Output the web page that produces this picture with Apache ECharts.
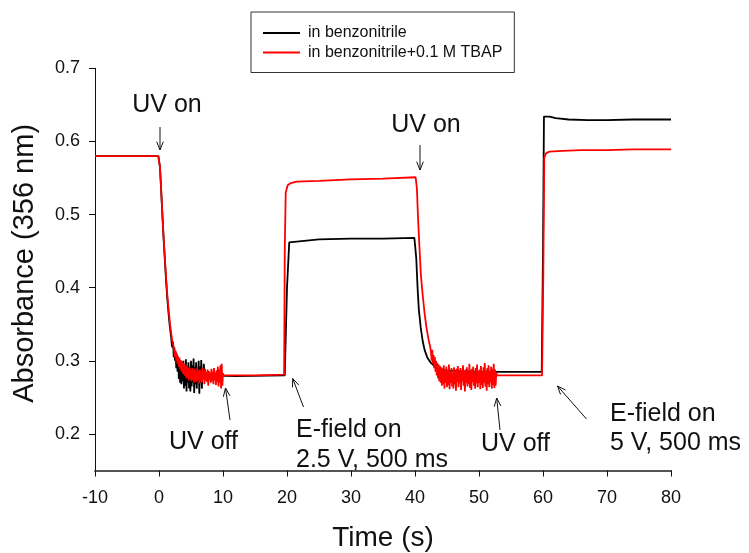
<!DOCTYPE html>
<html>
<head>
<meta charset="utf-8">
<script src="https://cdn.jsdelivr.net/npm/echarts@6/dist/echarts.min.js"></script>
<style>
html,body{margin:0;padding:0;background:#fff;}
#c{width:749px;height:553px;}
</style>
</head>
<body>
<div id="c"></div>
<script>
// ---------- DATA ----------
const seriesNames = ['in benzonitrile', 'in benzonitrile+0.1 M TBAP'];
const xTicks = [-10, 0, 10, 20, 30, 40, 50, 60, 70, 80];
const yTicks = [0.2, 0.3, 0.4, 0.5, 0.6, 0.7];

// black: before UV, first decay
const blackDecay1 = [[-10,0.580],[-5,0.580],[-0.1,0.580],[0,0.581],[0.15,0.565],[0.3,0.540],[0.5,0.505],[0.7,0.470],[0.9,0.440],[1.1,0.410],[1.3,0.385],[1.5,0.364],[1.7,0.346],[1.9,0.332]];
// black: noisy tail of first decay
const blackNoise1 = [[2.0,0.322],[2.1,0.318],[2.2,0.326],[2.3,0.305],[2.4,0.318],[2.5,0.300],[2.6,0.312],[2.7,0.290],[2.8,0.308],[2.9,0.285],[3.0,0.303],[3.1,0.275],[3.2,0.300],[3.3,0.270],[3.4,0.298],[3.5,0.268],[3.6,0.296],[3.7,0.272],[3.8,0.300],[3.9,0.262],[4.0,0.294],[4.1,0.266],[4.2,0.302],[4.3,0.258],[4.4,0.293],[4.5,0.270],[4.6,0.298],[4.7,0.262],[4.8,0.291],[4.9,0.258],[5.0,0.300],[5.1,0.265],[5.2,0.294],[5.3,0.270],[5.4,0.303],[5.5,0.256],[5.6,0.292],[5.7,0.268],[5.8,0.298],[5.9,0.262],[6.0,0.289],[6.1,0.272],[6.2,0.300],[6.3,0.255],[6.4,0.292],[6.5,0.270],[6.6,0.301],[6.7,0.262],[6.8,0.290],[6.9,0.275],[7.0,0.296],[7.1,0.280]];
// black: rest of the trace
const blackRest = [[7.2,0.280],[12,0.279],[19.65,0.280],[20.0,0.400],[20.35,0.462],[20.6,0.464],[25,0.466],[30,0.467],[35,0.467],[39.9,0.468],[40.0,0.466],[40.2,0.440],[40.4,0.400],[40.6,0.370],[40.9,0.345],[41.2,0.327],[41.5,0.315],[41.9,0.305],[42.4,0.298],[43,0.293],[44,0.289],[45,0.287],[47,0.286],[50,0.285],[55,0.285],[59.8,0.285],[60.0,0.450],[60.15,0.634],[61,0.634],[62,0.632],[64,0.630],[67,0.629],[70,0.629],[74,0.630],[77,0.630],[80,0.630]];

// red: before UV, first decay
const redDecay1 = [[-10,0.580],[-5,0.580],[-0.1,0.580],[0,0.581],[0.15,0.565],[0.3,0.540],[0.5,0.505],[0.7,0.472],[0.9,0.443],[1.1,0.415],[1.3,0.390],[1.5,0.370],[1.7,0.352],[1.9,0.338],[2.1,0.326],[2.3,0.318]];
// red: noisy tail of first decay
const redNoise1 = [[2.4,0.316],[2.5,0.305],[2.6,0.314],[2.7,0.300],[2.8,0.310],[2.9,0.296],[3.0,0.306],[3.1,0.292],[3.2,0.304],[3.3,0.289],[3.4,0.301],[3.5,0.286],[3.6,0.299],[3.7,0.283],[3.8,0.297],[3.9,0.281],[4.0,0.295],[4.1,0.279],[4.2,0.294],[4.3,0.276],[4.4,0.292],[4.5,0.277],[4.6,0.290],[4.7,0.273],[4.8,0.291],[4.9,0.275],[5.0,0.288],[5.1,0.272],[5.2,0.290],[5.3,0.274],[5.4,0.287],[5.5,0.270],[5.6,0.289],[5.7,0.273],[5.8,0.286],[5.9,0.271],[6.0,0.291],[6.1,0.274],[6.2,0.287],[6.3,0.269],[6.4,0.288],[6.5,0.272],[6.6,0.285],[6.7,0.270],[6.8,0.290],[6.9,0.275],[7.0,0.286],[7.1,0.268],[7.2,0.289],[7.3,0.273],[7.4,0.285],[7.5,0.271],[7.6,0.288],[7.7,0.266],[7.8,0.286],[7.9,0.274],[8.0,0.284],[8.1,0.270],[8.2,0.289],[8.3,0.272],[8.4,0.285],[8.5,0.268],[8.6,0.290],[8.7,0.274],[8.8,0.284],[8.9,0.267],[9.0,0.287],[9.1,0.271],[9.2,0.292],[9.3,0.265],[9.4,0.288],[9.5,0.270],[9.6,0.294],[9.7,0.262],[9.8,0.296],[9.9,0.266],[10.0,0.283]];
// red: flat, E-field step, second decay start
const redMid = [[10.1,0.280],[15,0.280],[19.55,0.281],[19.65,0.450],[19.8,0.530],[20.1,0.540],[20.6,0.543],[21.5,0.545],[25,0.546],[30,0.548],[35,0.549],[40.1,0.551],[40.3,0.535],[40.5,0.490],[40.7,0.455],[40.9,0.420],[41.2,0.390],[41.5,0.365],[41.8,0.345],[42.1,0.330],[42.4,0.318]];
// red: noisy tail of second decay
const redNoise2 = [[42.5,0.312],[42.6,0.300],[42.7,0.315],[42.8,0.296],[42.9,0.308],[43.0,0.290],[43.1,0.305],[43.2,0.285],[43.3,0.300],[43.4,0.280],[43.5,0.297],[43.6,0.276],[43.7,0.295],[43.8,0.272],[43.9,0.293],[44.0,0.270],[44.1,0.291],[44.2,0.266],[44.3,0.289],[44.4,0.268],[44.5,0.294],[44.6,0.262],[44.7,0.288],[44.8,0.270],[44.9,0.292],[45.0,0.264],[45.1,0.287],[45.2,0.267],[45.3,0.295],[45.4,0.261],[45.5,0.286],[45.6,0.270],[45.7,0.290],[45.8,0.265],[45.9,0.284],[46.0,0.262],[46.1,0.291],[46.2,0.268],[46.3,0.286],[46.4,0.259],[46.5,0.289],[46.6,0.271],[46.7,0.293],[46.8,0.264],[46.9,0.285],[47.0,0.269],[47.1,0.290],[47.2,0.260],[47.3,0.287],[47.4,0.272],[47.5,0.294],[47.6,0.266],[47.7,0.286],[47.8,0.258],[47.9,0.288],[48.0,0.270],[48.1,0.291],[48.2,0.265],[48.3,0.285],[48.4,0.268],[48.5,0.296],[48.6,0.263],[48.7,0.287],[48.8,0.260],[48.9,0.289],[49.0,0.271],[49.1,0.292],[49.2,0.266],[49.3,0.284],[49.4,0.262],[49.5,0.290],[49.6,0.269],[49.7,0.295],[49.8,0.264],[49.9,0.286],[50.0,0.270],[50.1,0.288],[50.2,0.261],[50.3,0.293],[50.4,0.267],[50.5,0.285],[50.6,0.263],[50.7,0.291],[50.8,0.270],[50.9,0.297],[51.0,0.265],[51.1,0.287],[51.2,0.259],[51.3,0.290],[51.4,0.268],[51.5,0.294],[51.6,0.264],[51.7,0.286],[51.8,0.271],[51.9,0.292],[52.0,0.262],[52.1,0.289],[52.2,0.267],[52.3,0.296],[52.4,0.263],[52.5,0.288],[52.6,0.266],[52.7,0.284]];
// red: rest of the trace
const redRest = [[52.8,0.280],[56,0.280],[59.85,0.280],[60.05,0.420],[60.2,0.578],[60.5,0.584],[61,0.586],[63,0.587],[66,0.588],[70,0.588],[74,0.589],[77,0.589],[80,0.589]];

// ---------- CHART ----------
const FONT = 'Liberation Sans, Arial, Helvetica, sans-serif';
const blackData = blackDecay1.concat(blackNoise1, blackRest);
const redData = redDecay1.concat(redNoise1, redMid, redNoise2, redRest);

const chart = echarts.init(document.getElementById('c'), null, {renderer: 'canvas'});

// annotation layout (pixels)
const annTexts = [
  {text: 'UV on', x: 167, y: 105, align: 'center'},
  {text: 'UV on', x: 426, y: 125, align: 'center'},
  {text: 'UV off', x: 238, y: 442, align: 'right'},
  {text: 'UV off', x: 481, y: 444, align: 'left'},
  {text: 'E-field on', x: 296, y: 430, align: 'left'},
  {text: '2.5 V, 500 ms', x: 296, y: 460, align: 'left'},
  {text: 'E-field on', x: 610, y: 414, align: 'left'},
  {text: '5 V, 500 ms', x: 610, y: 443, align: 'left'}
];
const annArrows = [
  {from: [160, 127], to: [160, 150]},
  {from: [420, 145], to: [420, 170]},
  {from: [230, 420], to: [225.5, 388]},
  {from: [500, 430], to: [496.7, 398]},
  {from: [303.5, 407], to: [292.7, 378.5]},
  {from: [586.5, 419], to: [557.5, 386]}
];

function arrowGraphics() {
  const els = [];
  annArrows.forEach(a => {
    const [x1, y1] = a.from, [x2, y2] = a.to;
    const ang = Math.atan2(y1 - y2, x1 - x2);
    const L = 9, sp = 0.38;
    const p1 = [x2 + L * Math.cos(ang + sp), y2 + L * Math.sin(ang + sp)];
    const p2 = [x2 + L * Math.cos(ang - sp), y2 + L * Math.sin(ang - sp)];
    els.push({type: 'line', silent: true, shape: {x1, y1, x2, y2}, style: {stroke: '#111', lineWidth: 1}});
    els.push({type: 'polyline', silent: true, shape: {points: [p1, [x2, y2], p2]}, style: {stroke: '#111', lineWidth: 1, fill: null}});
  });
  annTexts.forEach(t => {
    els.push({type: 'text', silent: true, x: t.x, y: t.y,
      style: {text: t.text, font: '25px ' + FONT, fill: '#111', align: t.align, verticalAlign: 'middle', textAlign: t.align, textVerticalAlign: 'middle'}});
  });
  return els;
}

const option = {
  animation: false,
  backgroundColor: '#fff',
  textStyle: {fontFamily: FONT},
  grid: {left: 95, right: 78, top: 68.3, bottom: 82.5, containLabel: false, outerBoundsMode: 'none'},
  legend: {
    left: 251, top: 12,
    orient: 'vertical',
    data: seriesNames,
    icon: 'rect',
    itemWidth: 37, itemHeight: 2,
    itemGap: 3.5,
    padding: [13, 12, 12, 12],
    borderColor: '#333', borderWidth: 1,
    textStyle: {fontSize: 16, color: '#111', fontFamily: FONT, lineHeight: 16, padding: [0, 0, 0, 3]},
    selectedMode: false
  },
  xAxis: {
    type: 'value', min: xTicks[0], max: xTicks[xTicks.length - 1], interval: 10,
    name: 'Time (s)', nameLocation: 'middle', nameGap: 54,
    nameTextStyle: {fontSize: 28, color: '#111', fontFamily: FONT},
    axisLine: {show: true, onZero: false, lineStyle: {color: '#555', width: 2}},
    axisTick: {show: true, length: 6, lineStyle: {color: '#111', width: 1}},
    axisLabel: {fontSize: 18, color: '#111', margin: 19, fontFamily: FONT},
    splitLine: {show: false}
  },
  yAxis: {
    type: 'value', min: 0.15, max: 0.7,
    name: 'Absorbance (356 nm)', nameLocation: 'middle', nameGap: 56, nameRotate: 90,
    nameTextStyle: {fontSize: 29, color: '#111', fontFamily: FONT, padding: [0, 0, 0, 12]},
    axisLine: {show: true, onZero: false, lineStyle: {color: '#111', width: 1}},
    axisTick: {show: true, length: 6, lineStyle: {color: '#111', width: 1}, customValues: yTicks},
    axisLabel: {fontSize: 18, color: '#111', margin: 15, fontFamily: FONT, customValues: yTicks,
      formatter: v => (Math.round(v * 10) / 10).toFixed(1)},
    splitLine: {show: false}
  },
  series: [
    {name: seriesNames[0], type: 'line', data: blackData, showSymbol: false, symbol: 'none',
      color: '#000', lineStyle: {color: '#000', width: 1.8}, z: 2},
    {name: seriesNames[1], type: 'line', data: redData, showSymbol: false, symbol: 'none',
      color: '#ff0000', lineStyle: {color: '#ff0000', width: 1.8}, z: 3}
  ],
  graphic: arrowGraphics()
};
chart.setOption(option);
</script>
</body>
</html>
